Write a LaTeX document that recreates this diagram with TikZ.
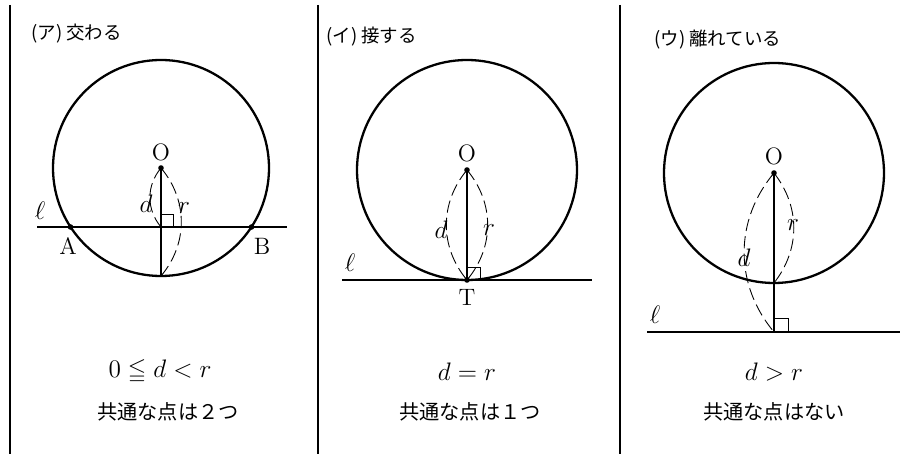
\documentclass[tikz,border=0pt]{standalone}
\usepackage{amsmath,amssymb}
\usepackage{fontspec}
\newfontfamily\jp{Noto Sans CJK JP}
\usepackage{tikz}
\usetikzlibrary{calc}

\tikzset{
  rim/.style={line width=1.3pt},
  sepline/.style={line width=0.8pt},
  lline/.style={line width=1.6pt},
  seg/.style={line width=0.9pt},
  dimarc/.style={line width=0.5pt,dash pattern=on 7pt off 3pt},
  ttl/.style={font=\jp\fontsize{10.5}{12}\selectfont,anchor=west,inner sep=0pt},
  capt/.style={font=\jp\fontsize{11.5}{13}\selectfont,inner sep=0pt},
  lbl/.style={font=\fontsize{13.5}{15}\selectfont,inner sep=0pt},
}

\begin{document}
\begin{tikzpicture}[x=0.2mm,y=-0.2mm]
  \useasboundingbox (0,0) rectangle (920,454);
  \draw[sepline] (10,5) -- (10,454) (318,5) -- (318,454) (620,5) -- (620,454);

  % (a) two common points
  \node[ttl] (t1) at (31,34) {(ア) 交わる};
  \coordinate (O1) at (161,168);
  \coordinate (H1) at (161,227);
  \coordinate (P1) at (161,276);
  \coordinate (A) at (70.5,227);
  \coordinate (B) at (251.5,227);
  \coordinate (l1s) at (37,227);
  \coordinate (l1e) at (287,227);
  \draw[rim] (O1) circle[radius=108];
  \draw[lline] (l1s) -- (l1e);
  \draw[seg] (O1) -- (P1);
  \draw[thin] ($(H1)+(0,-13)$) -- ++(12,0) -- ++(0,13);
  \draw[dimarc] (O1) to[bend right=40] (H1);
  \draw[dimarc] (O1) to[bend left=40] (P1);
  \fill (O1) circle[radius=2.8] (A) circle[radius=2.8] (B) circle[radius=2.8];
  \node[lbl] (o1) at (161,152) {O};
  \node[lbl] (a) at (68,246) {A};
  \node[lbl] (b) at (262,246) {B};
  \node[lbl] (ell1) at (40,211) {$\ell$};
  \node[lbl] (d1) at (146,204) {$d$};
  \node[lbl] (r1) at (184,208) {$r$};
  \node[lbl] (f1) at (160,372) {$0\leqq d<r$};
  \node[capt] (c1) at (168,412) {共通な点は２つ};

  % (b) one common point
  \node[ttl] (t2) at (326,37) {(イ) 接する};
  \coordinate (O2) at (467,170);
  \coordinate (T2) at (467,280);
  \coordinate (l2s) at (342,280);
  \coordinate (l2e) at (592,280);
  \draw[rim] (O2) circle[radius=110];
  \draw[lline] (l2s) -- (l2e);
  \draw[seg] (O2) -- (T2);
  \draw[thin] ($(T2)+(0,-13)$) -- ++(13,0) -- ++(0,13);
  \draw[dimarc] (O2) to[bend right=40] (T2);
  \draw[dimarc] (O2) to[bend left=40] (T2);
  \fill (O2) circle[radius=2.8] (T2) circle[radius=2.8];
  \node[lbl] (o2) at (467,153) {O};
  \node[lbl] (t) at (467,297) {T};
  \node[lbl] (ell2) at (350,263) {$\ell$};
  \node[lbl] (d2) at (441,230) {$d$};
  \node[lbl] (r2) at (489,230) {$r$};
  \node[lbl] (f2) at (467,372) {$d=r$};
  \node[capt] (c2) at (470,412) {共通な点は１つ};

  % (c) no common point
  \node[ttl] (t3) at (654,40) {(ウ) 離れている};
  \coordinate (O3) at (774,173);
  \coordinate (P3) at (774,283);
  \coordinate (H3) at (774,332);
  \coordinate (l3s) at (647,332);
  \coordinate (l3e) at (900,332);
  \draw[rim] (O3) circle[radius=110];
  \draw[lline] (l3s) -- (l3e);
  \draw[seg] (O3) -- (H3);
  \draw[thin] ($(H3)+(0,-14)$) -- ++(14,0) -- ++(0,14);
  \draw[dimarc] (O3) to[bend right=40] (H3);
  \draw[dimarc] (O3) to[bend left=38] (P3);
  \fill (O3) circle[radius=2.8];
  \node[lbl] (o3) at (774,156) {O};
  \node[lbl] (ell3) at (655,315) {$\ell$};
  \node[lbl] (d3) at (744,258) {$d$};
  \node[lbl] (r3) at (793,225) {$r$};
  \node[lbl] (f3) at (774,372) {$d>r$};
  \node[capt] (c3) at (774,412) {共通な点はない};
\end{tikzpicture}
\end{document}
